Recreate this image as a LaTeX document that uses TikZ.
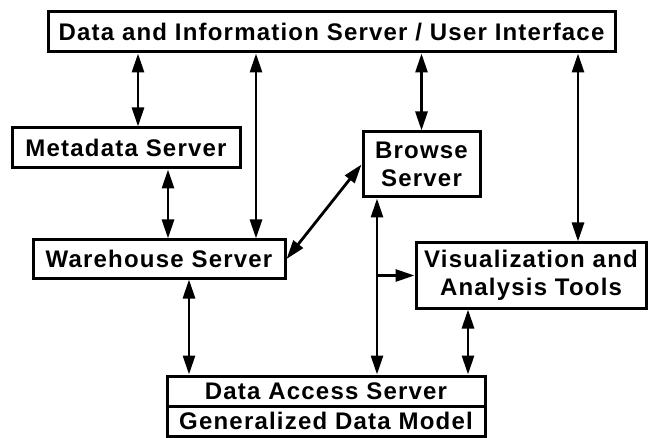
\documentclass[tikz,border=0pt]{standalone}
\usepackage{fontspec}
\setmainfont{Liberation Sans}[LetterSpace=5]
\usetikzlibrary{arrows.meta,calc}
\begin{document}
\begin{tikzpicture}[x=1pt,y=-1pt,
  txt/.style={font=\bfseries\fontsize{24}{28}\selectfont},
  box/.style={draw,line width=3pt,inner sep=0pt,txt,align=center},
  lbl/.style={inner sep=0pt,txt},
  tip/.tip={Triangle[length=19pt,width=12pt]},
  dbl/.style={line width=2.8pt,tip-tip},
  sgl/.style={line width=2.8pt,-tip}]
\useasboundingbox (0,0) rectangle (650,438);
\node[box,minimum width=567pt,minimum height=40pt] (top) at (331.5,32) {Data and Information Server / User Interface};
\node[box,minimum width=228pt,minimum height=40pt] (meta) at (126,148) {Metadata Server};
\node[box,minimum width=252pt,minimum height=38pt] (wh) at (159,259) {Warehouse Server};
\node[box,minimum width=117pt,minimum height=65pt] (browse) at (421.5,164.5) {Browse\\Server};
\node[box,minimum width=230pt,minimum height=65pt] (viz) at (531,275.5) {Visualization and\\Analysis Tools};
\node[box,minimum width=318pt,minimum height=60pt] (das) at (326,406) {};
\draw[line width=3pt] (das.west) -- (das.east);
\node[lbl] (dasA) at (326,391) {Data Access Server};
\node[lbl] (dasB) at (326,421) {Generalized Data Model};
% connectors
\draw[dbl] ([xshift=12pt]meta.north |- top.south) -- ([xshift=12pt]meta.north);
\draw[dbl] ([xshift=97pt]wh.north |- top.south) -- ([xshift=97pt]wh.north);
\draw[dbl] (browse.north |- top.south) -- (browse.north);
\draw[dbl] ([xshift=47pt]viz.north |- top.south) -- ([xshift=47pt]viz.north);
\draw[dbl] ([xshift=9pt]wh.north |- meta.south) -- ([xshift=9pt]wh.north);
\draw[dbl] (wh.east) -- (browse.west);
\draw[dbl] ([xshift=30pt]wh.south) -- ([xshift=30pt]wh.south |- das.north);
\draw[dbl] ([xshift=-44.5pt]browse.south) -- ([xshift=-44.5pt]browse.south |- das.north);
\coordinate (br) at ([xshift=-44.5pt]browse.south |- viz.west);
\draw[sgl] (br) -- (viz.west);
\draw[dbl] ([xshift=-63pt]viz.south) -- ([xshift=-63pt]viz.south |- das.north);
\end{tikzpicture}
\end{document}
